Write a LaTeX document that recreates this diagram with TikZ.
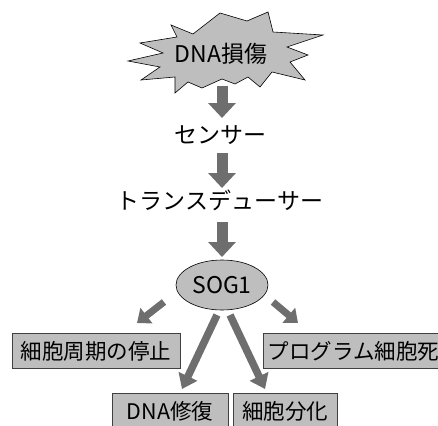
\documentclass[tikz,border=0pt]{standalone}
\usepackage{fontspec}
\setmainfont{Noto Sans CJK JP}
\usetikzlibrary{arrows.meta,shapes.geometric}
\definecolor{arr}{RGB}{110,110,110}
\definecolor{fillg}{RGB}{190,190,190}
\tikzset{
 bigarrow/.style={draw=arr, line width=11pt, -{Triangle[width=27pt,length=15pt]}},
 smallarrow/.style={draw=arr, line width=7pt, -{Triangle[width=19pt,length=12pt]}},
 midarrow/.style={draw=arr, line width=7.5pt, -{Triangle[width=20pt,length=14pt]}},
 lbl/.style={font=\fontsize{23}{25}\selectfont, inner sep=0pt},
 resbox/.style={draw=black!75, fill=fillg, line width=0.8pt, minimum height=35pt, inner sep=0pt, font=\fontsize{21.5}{23}\selectfont},
 starshape/.style={fill=fillg, draw=black, line width=0.6pt, line join=miter},
}
\begin{document}
\begin{tikzpicture}[x=1pt,y=-1pt]
\useasboundingbox (0,0) rectangle (438,425);
\clip (0,0) rectangle (438,425);
% starburst
\draw[starshape] (171,25) -- (193,34) -- (220,13) -- (247,21) -- (268,12) -- (273,32)
  -- (323,35) -- (287,47) -- (308,55) -- (290,62) -- (305,80) -- (272,72) -- (260,87)
  -- (248,77) -- (235,84) -- (222,79) -- (202,88) -- (188,82) -- (175,93) -- (175,77)
  -- (141,80) -- (160,67) -- (128,61) -- (163,53) -- (140,43) -- (177,37) -- cycle;
\node[lbl] (dmg) at (221,54) {DNA損傷};
\node[lbl] (sen) at (220,135) {センサー};
\node[lbl] (trd) at (220,200) {トランスデューサー};
\node[ellipse, draw=black, fill=fillg, line width=0.6pt, minimum width=92pt, minimum height=50pt, inner sep=0pt, font=\fontsize{23}{25}\selectfont] (sog) at (222,285) {SOG1};
\node[resbox, minimum width=168pt] (cyc) at (96,351) {細胞周期の停止};
\node[resbox, anchor=west, minimum width=180pt] (pcd) at (263,351) {プログラム細胞死};
\node[resbox, minimum width=116pt] (rep) at (170,411) {DNA修復};
\node[resbox, minimum width=104pt] (dif) at (285,411) {細胞分化};
% arrow end points
\coordinate (a1s) at (222,86);  \coordinate (a1e) at (222,118);
\coordinate (a2s) at (222,153); \coordinate (a2e) at (222,188);
\coordinate (a3s) at (222,222); \coordinate (a3e) at (222,257);
\coordinate (l1s) at (164,302); \coordinate (l1e) at (137,323);
\coordinate (r1s) at (273,302); \coordinate (r1e) at (298,323);
\coordinate (m1s) at (217,315); \coordinate (m1e) at (182,389);
\coordinate (m2s) at (230,315); \coordinate (m2e) at (265,389);
\draw[bigarrow] (a1s) -- (a1e);
\draw[bigarrow] (a2s) -- (a2e);
\draw[bigarrow] (a3s) -- (a3e);
\draw[smallarrow] (l1s) -- (l1e);
\draw[smallarrow] (r1s) -- (r1e);
\draw[midarrow] (m1s) -- (m1e);
\draw[midarrow] (m2s) -- (m2e);
\end{tikzpicture}
\end{document}
